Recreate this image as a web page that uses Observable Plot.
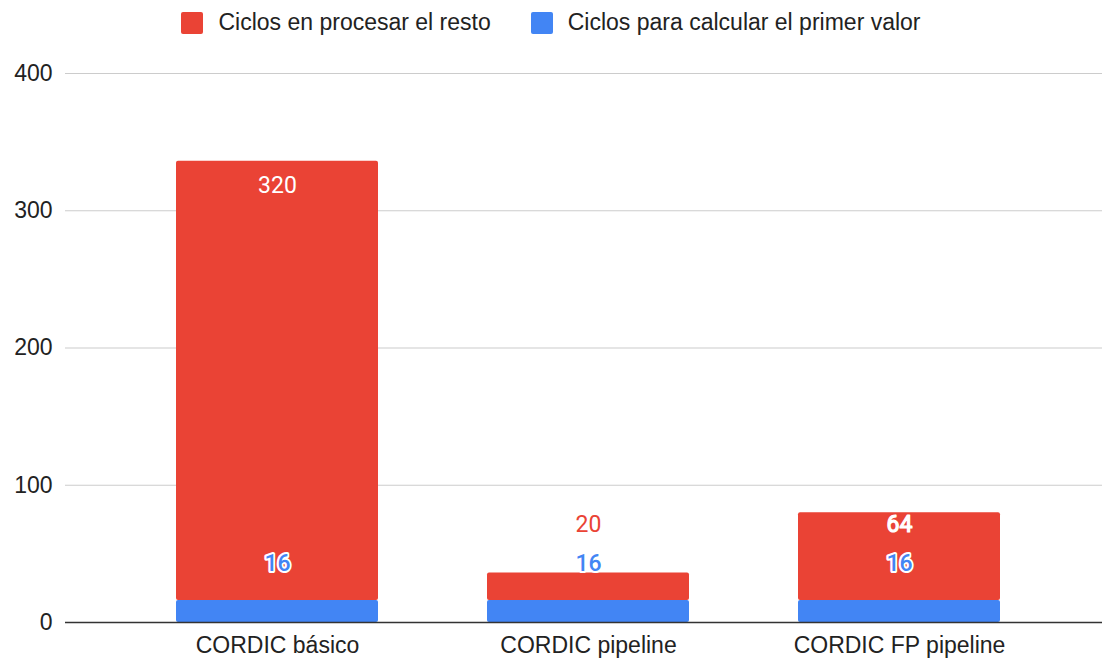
<!DOCTYPE html>
<html>
<head>
<meta charset="utf-8">
<script src="https://cdn.jsdelivr.net/npm/d3@7"></script>
<script src="https://cdn.jsdelivr.net/npm/@observablehq/plot@0.6"></script>
<style>
  html, body { margin: 0; padding: 0; background: #fff; }
  body { width: 1102px; height: 662px; overflow: hidden; font-family: "Liberation Sans", Arial, sans-serif; }
  #legend { height: 45px; display: flex; justify-content: center; align-items: center; gap: 40px; font-size: 23px; color: #222; padding-left: 0px; box-sizing: border-box; }
  .item { display: flex; align-items: center; gap: 15px; }
  .sw { width: 22px; height: 22px; border-radius: 2px; display: inline-block; }
</style>
</head>
<body>
<div id="legend"></div>
<div id="chart"></div>
<script>
const categories = ["CORDIC básico", "CORDIC pipeline", "CORDIC FP pipeline"];
const firstValue = [16, 16, 16];   // Ciclos para calcular el primer valor
const rest = [320, 20, 64];         // Ciclos en procesar el resto
const seriesNames = ["Ciclos en procesar el resto", "Ciclos para calcular el primer valor"];
const seriesColors = ["#EA4335", "#4285F4"];
const yTicks = [0, 100, 200, 300, 400];

// legend
const legend = document.getElementById("legend");
seriesNames.forEach((n, i) => {
  const d = document.createElement("div");
  d.className = "item";
  d.innerHTML = `<span class="sw" style="background:${seriesColors[i]}"></span><span>${n}</span>`;
  legend.appendChild(d);
});

const rows = [];
categories.forEach((c, i) => {
  rows.push({cat: c, series: seriesNames[1], value: firstValue[i]});
  rows.push({cat: c, series: seriesNames[0], value: rest[i]});
});

// label positions (data units): near top of segment, pushed up to avoid overlap
const lowLabels = categories.map((c, i) => ({cat: c, v: firstValue[i], y: Math.max(firstValue[i] - 17, 43)}));
const topLabels = categories.map((c, i) => {
  const total = firstValue[i] + rest[i];
  return {cat: c, v: rest[i], y: Math.max(total - 18, 71), inside: rest[i] > 100, overBar: total > 71 + 8};
});

const plot = Plot.plot({
  width: 1102,
  height: 617,
  marginLeft: 65,
  marginRight: 0,
  marginTop: 28,
  marginBottom: 40,
  style: {fontFamily: "'Liberation Sans', Arial, sans-serif", fontSize: "23px", color: "#222", background: "#fff"},
  x: {domain: categories, paddingInner: 0.35, paddingOuter: 0.337, align: 0.523, label: null, tickSize: 0, tickPadding: 14},
  y: {domain: [0, 400], ticks: yTicks, label: null, tickSize: 0, tickPadding: 13, tickFormat: d3.format("d")},
  color: {domain: seriesNames, range: seriesColors},
  marks: [
    Plot.ruleY(yTicks.filter(d => d > 0), {stroke: "#cccccc", strokeWidth: 1.2}),
    Plot.barY(rows, Plot.stackY({order: seriesNames.slice().reverse(), x: "cat", y: "value", fill: "series", rx: 2})),
    Plot.ruleY([0], {stroke: "#333", strokeWidth: 1.6}),
    // top labels
    Plot.text(topLabels.filter(d => d.inside), {x: "cat", y: "y", text: d => String(d.v), fill: "white", fontFamily: "Roboto", fontSize: 23}),
    Plot.text(topLabels.filter(d => !d.inside && d.overBar), {x: "cat", y: "y", text: d => String(d.v), fill: "white", stroke: "white", strokeWidth: 1.2, fontFamily: "Roboto", fontSize: 23}),
    Plot.text(topLabels.filter(d => !d.inside && !d.overBar), {x: "cat", y: "y", text: d => String(d.v), fill: "#EA4335", fontFamily: "Roboto", fontSize: 23}),
    // 16 labels
    Plot.text(lowLabels, {x: "cat", y: "y", text: d => String(d.v), fill: "#4285F4", stroke: "white", strokeWidth: 4, paintOrder: "stroke", fontFamily: "Roboto", fontSize: 23, fontWeight: 500})
  ]
});
document.getElementById("chart").appendChild(plot);
</script>
</body>
</html>
